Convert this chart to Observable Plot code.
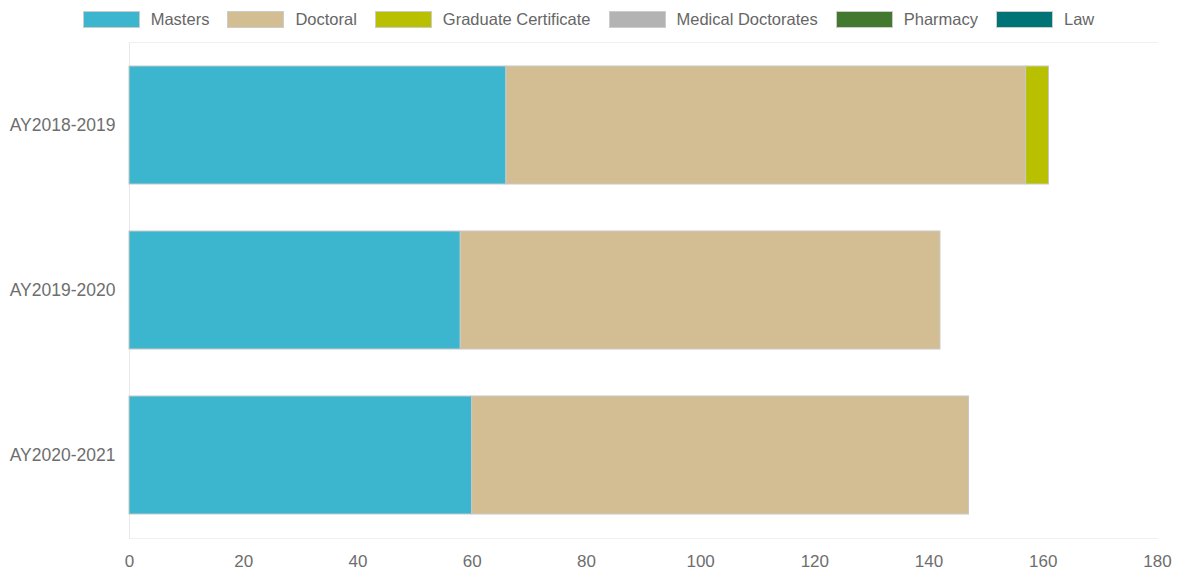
<!DOCTYPE html>
<html>
<head>
<meta charset="utf-8">
<script src="https://cdn.jsdelivr.net/npm/d3@7"></script>
<script src="https://cdn.jsdelivr.net/npm/@observablehq/plot@0.6"></script>
<style>
  html, body { margin: 0; padding: 0; background: #fff; }
  body { width: 1177px; height: 571px; overflow: hidden; font-family: "Liberation Sans", Arial, sans-serif; }
  #legend { height: 36px; display: flex; justify-content: center; align-items: center; gap: 18px; padding-top: 3px; box-sizing: border-box; }
  .item { display: flex; align-items: center; gap: 11px; font-size: 16.5px; color: #666; }
  .swatch { width: 57px; height: 17px; box-sizing: border-box; border: 1px solid #ccc; }
  #chart svg { display: block; }
</style>
</head>
<body>
<div id="legend"></div>
<div id="chart"></div>
<script>
// Graduate degrees awarded per academic year, by program type
const years = ["AY2018-2019", "AY2019-2020", "AY2020-2021"];
const programs = ["Masters", "Doctoral", "Graduate Certificate", "Medical Doctorates", "Pharmacy", "Law"];
const colors = ["#3cb5cf", "#d3be94", "#b9c000", "#b3b3b3", "#43792f", "#007377"];

const masters = [66, 58, 60];
const doctoral = [91, 84, 87];
const gradCertificate = [4, 0, 0];
const medicalDoctorates = [0, 0, 0];
const pharmacy = [0, 0, 0];
const law = [0, 0, 0];

const xTicks = [0, 20, 40, 60, 80, 100, 120, 140, 160, 180];

const series = [masters, doctoral, gradCertificate, medicalDoctorates, pharmacy, law];
const rows = [];
years.forEach((year, i) => {
  programs.forEach((program, j) => {
    rows.push({year, program, value: series[j][i]});
  });
});

// Legend row above the chart
const legend = document.getElementById("legend");
programs.forEach((p, i) => {
  const item = document.createElement("div");
  item.className = "item";
  const sw = document.createElement("div");
  sw.className = "swatch";
  sw.style.background = colors[i];
  const label = document.createElement("span");
  label.textContent = p;
  item.append(sw, label);
  legend.append(item);
});

const chart = Plot.plot({
  width: 1177,
  height: 535,
  marginTop: 6,
  marginBottom: 33,
  marginLeft: 129,
  marginRight: 20,
  style: {fontFamily: "Liberation Sans, Arial, sans-serif", fontSize: "17px", color: "#666", background: "#fff"},
  x: {domain: [0, 180], ticks: xTicks, label: null},
  y: {domain: years, label: null, paddingInner: 0.285, paddingOuter: 0.14},
  color: {domain: programs, range: colors},
  marks: [
    Plot.frame({anchor: "top", stroke: "#f0f0f0"}),
    Plot.frame({anchor: "bottom", stroke: "#f0f0f0"}),
    Plot.ruleX([0], {stroke: "#e8e8e8"}),
    Plot.barX(rows.filter(d => d.value > 0), Plot.stackX({
      y: "year",
      x: "value",
      fill: "program",
      stroke: "#c8c8c8",
      strokeWidth: 1
    })),
    Plot.axisX({ticks: xTicks, tickSize: 0, tickPadding: 16, fill: "#6e6e6e", fontSize: 17, label: null}),
    Plot.axisY({tickSize: 0, tickPadding: 14, fill: "#6e6e6e", fontSize: 17.5, label: null})
  ]
});
document.getElementById("chart").append(chart);
</script>
</body>
</html>
